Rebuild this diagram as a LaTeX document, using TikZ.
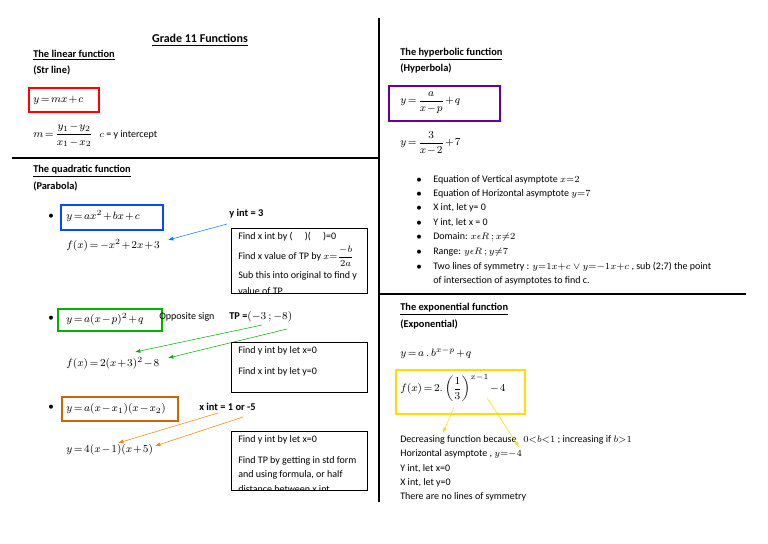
\documentclass[tikz,border=0pt]{standalone}
\usepackage{amsmath}
\usepackage{fontspec}
\setmainfont{Carlito}
\usetikzlibrary{arrows.meta}
\newcommand{\eqspacing}{\medmuskip=1.5mu\relax\thickmuskip=2.5mu\relax}
\tikzset{
  txt/.style={anchor=west,inner sep=0pt,font=\fontsize{7.5}{8.5}\selectfont},
  eq/.style={txt,font=\fontsize{8.5}{9}\selectfont\eqspacing},
  head/.style={txt,font=\fontsize{7.8}{9}\selectfont\bfseries},
  hint/.style={draw,line width=0.6pt},
  fbox/.style={draw,line width=1.3pt},
  pointer/.style={-{Latex[length=4pt,width=3pt]},line width=0.4pt}
}
\newcommand{\ul}[1]{\underline{#1}}
\begin{document}
\begin{tikzpicture}[x=0.75pt,y=-0.75pt]
\useasboundingbox (0,0) rectangle (768,543);
% frame lines
\draw[line width=1.2pt] (379,18) -- (379,502);
\draw[line width=1.2pt] (12,158) -- (379,158);
\draw[line width=1.2pt] (379,294) -- (746,294);
\node[head,anchor=center,font=\fontsize{9}{10}\selectfont\bfseries] (title) at (200,40) {\ul{Grade 11 Functions}};
% linear
\node[head] (lin) at (33,55) {\ul{The linear function}};
\node[head] (linsub) at (33,70) {(Str line)};
\draw[fbox,red] (29,88) rectangle (99,112);
\node[eq] (lineq) at (33,100) {$y=mx+c$};
\node[eq] (grad) at (33,135) {$m=\dfrac{y_1-y_2}{x_1-x_2}$};
\node[txt] (cint) at (99,135) {$c$ = y intercept};
% quadratic
\node[head] (quad) at (33,171) {\ul{The quadratic function}};
\node[head] (quadsub) at (33,186) {(Parabola)};
\node[txt] (b1) at (48,216) {$\bullet$};
\draw[fbox,blue!70!cyan] (61,205) rectangle (163,230);
\node[eq] (std) at (66,216) {$y=ax^2+bx+c$};
\node[eq] (fstd) at (66,245) {$f(x)=-x^2+2x+3$};
\node[head] (yint) at (229,214) {y int = 3};
\coordinate (yinta) at (227,224);
\coordinate (fstda) at (168,240);
\draw[pointer,blue!50!cyan] (yinta) -- (fstda);
\draw[hint] (231,228) rectangle (367,293);
\begin{scope}
\clip (231,228) rectangle (367,293);
\node[txt] (h1a) at (238,237) {Find x int by (\quad\ )(\quad\ )=0};
\node[txt] (h1b) at (238,256) {Find x value of TP by $x{=}\dfrac{-b}{2a}$};
\node[txt] (h1c) at (238,276) {Sub this into original to find y};
\node[txt] (h1d) at (238,291) {value of TP};
\end{scope}
\node[txt] (b2) at (48,318) {$\bullet$};
\draw[fbox,green!70!black] (58,309) rectangle (162,331);
\node[eq] (tpf) at (66,319) {$y=a(x-p)^2+q$};
\node[txt] (opp) at (159,317) {Opposite sign};
\node[head] (tp) at (229,317) {TP =$(-3\,;-8)$};
\node[eq] (ftp) at (66,363) {$f(x)=2(x+3)^2-8$};
\coordinate (tpa) at (262,325);
\coordinate (tpb) at (287,329);
\coordinate (ftpa) at (135,352);
\coordinate (ftpb) at (168,358);
\draw[pointer,green!70!black] (tpa) -- (ftpa);
\draw[pointer,green!70!black] (tpb) -- (ftpb);
\draw[hint] (231,342) rectangle (367,392);
\node[txt] (h2a) at (238,351) {Find y int by let x=0};
\node[txt] (h2b) at (238,372) {Find x int by let y=0};
\node[txt] (b3) at (48,407) {$\bullet$};
\draw[fbox,orange!80!black] (62,397) rectangle (178,421);
\node[eq] (rootf) at (66,409) {$y=a(x-x_1)(x-x_2)$};
\node[head] (xint) at (199,407) {x int = 1 or -5};
\node[eq] (froot) at (66,450) {$y=4(x-1)(x+5)$};
\coordinate (xa) at (218,413);
\coordinate (xb) at (243,417);
\coordinate (fra) at (118,443);
\coordinate (frb) at (155,446);
\draw[pointer,orange] (xa) -- (fra);
\draw[pointer,orange] (xb) -- (frb);
\draw[hint] (231,431) rectangle (367,490);
\begin{scope}
\clip (231,431) rectangle (367,490);
\node[txt] (h3a) at (238,440) {Find y int by let x=0};
\node[txt] (h3b) at (238,461) {Find TP by getting in std form};
\node[txt] (h3c) at (238,475) {and using formula, or half};
\node[txt] (h3d) at (238,489) {distance between x int};
\end{scope}
% hyperbola
\node[head] (hyp) at (400,54) {\ul{The hyperbolic function}};
\node[head] (hypsub) at (400,68) {(Hyperbola)};
\draw[fbox,violet!80!blue] (389,86) rectangle (500,121);
\node[eq] (hypf) at (400,103) {$y=\dfrac{a}{x-p}+q$};
\node[eq] (hypex) at (400,143) {$y=\dfrac{3}{x-2}+7$};
\foreach \y/\t in {180/{Equation of Vertical asymptote $x{=}2$},
  194/{Equation of Horizontal asymptote $y{=}7$},
  208/{X int, let y= 0}, 223/{Y int, let x = 0},
  237/{Domain: $x\epsilon R\,;x{\neq}2$}, 252/{Range: $y\epsilon R\,;y{\neq}7$},
  267/{Two lines of symmetry : $y{=}1x{+}c\vee y{=}{-}1x{+}c$ , sub (2;7) the point}}
{
  \node[txt] at (416,\y) {$\bullet$};
  \node[txt] at (433,\y) {\t};
}
\node[txt] (symm) at (433,281) {of intersection of asymptotes to find c.};
% exponential
\node[head] (expo) at (400,309) {\ul{The exponential function}};
\node[head] (exposub) at (400,324) {(Exponential)};
\node[eq] (expf) at (400,353) {$y=a\,.\,b^{x-p}+q$};
\draw[fbox,yellow!80!orange] (396,370) rectangle (525,414);
\node[eq] (expex) at (400,388) {$f(x)=2.\left(\dfrac{1}{3}\right)^{x-1}-4$};
\node[txt] (dec) at (400,440) {Decreasing function because \ \ $0{<}b{<}1$ ;\ increasing if $b{>}1$};
\node[txt] (hasy) at (400,454) {Horizontal asymptote , $y{=}{-}4$};
\node[txt] (eyint) at (400,469) {Y int, let x=0};
\node[txt] (exint) at (400,483) {X int, let y=0};
\node[txt] (nosym) at (400,497) {There are no lines of symmetry};
\coordinate (ea) at (454,407);
\coordinate (eb) at (487,398);
\coordinate (deca) at (443,433);
\coordinate (decb) at (519,447);
\draw[pointer,yellow!80!orange] (ea) -- (deca);
\draw[pointer,yellow!80!orange] (eb) -- (decb);
\end{tikzpicture}
\end{document}
